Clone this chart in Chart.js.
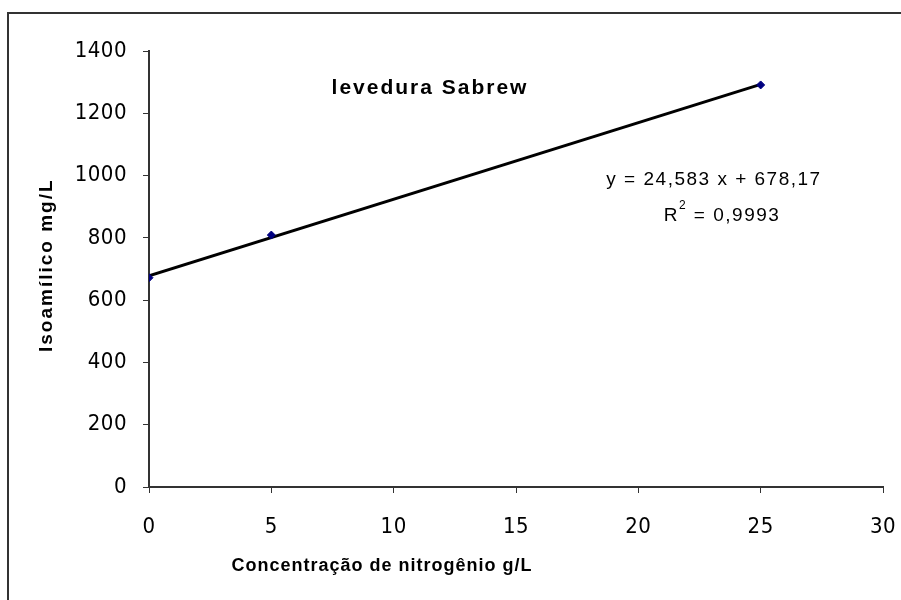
<!DOCTYPE html>
<html lang="pt-br">
  <head>
    <meta charset="UTF-8" />
    <title>levedura Sabrew</title>
    <script src="https://cdn.jsdelivr.net/npm/chart.js"></script>
    <style>
      body { margin: 0; background: #fff; }
      #grafico { display: block; }
    </style>
  </head>
  <body>
    <canvas id="grafico" width="901" height="600"></canvas>
    <script>
      // dados
      const concentracoes = [0, 5, 25];
      const isoamilico = [672, 809, 1291];
      const ticksX = [0, 5, 10, 15, 20, 25, 30];
      const ticksY = [0, 200, 400, 600, 800, 1000, 1200, 1400];
      // linha de tendência (equação mostrada no gráfico)
      const inclinacao = 24.583;
      const intercepto = 678.17;
      const tendenciaX = [0, 25];

      const pontos = concentracoes.map(function (x, i) {
        return { x: x, y: isoamilico[i] };
      });
      const tendencia = tendenciaX.map(function (x) {
        return { x: x, y: inclinacao * x + intercepto };
      });

      const fonte = "'Liberation Sans', Arial, sans-serif";
      const fonteTicks = "'Liberation Sans Narrow', 'DejaVu Sans Condensed', sans-serif";

      const textos = {
        id: "textos",
        beforeDraw: function (chart) {
          const ctx = chart.ctx;
          ctx.save();
          ctx.letterSpacing = "0.5px";
          // moldura externa (apenas topo e esquerda aparecem)
          ctx.strokeStyle = "#333";
          ctx.lineWidth = 2;
          ctx.beginPath();
          ctx.moveTo(8, 620);
          ctx.lineTo(8, 13);
          ctx.lineTo(920, 13);
          ctx.stroke();
        },
        afterDraw: function (chart) {
          const ctx = chart.ctx;
          ctx.restore();
          ctx.save();
          ctx.fillStyle = "#000";
          ctx.textBaseline = "middle";
          ctx.textAlign = "center";

          ctx.letterSpacing = "2px";
          ctx.font = "bold 21px " + fonte;
          ctx.fillText("levedura Sabrew", 430, 88);

          // títulos dos eixos
          ctx.letterSpacing = "1px";
          ctx.font = "bold 18px " + fonte;
          ctx.fillText("Concentração de nitrogênio g/L", 382, 566);

          ctx.save();
          ctx.translate(47, 352);
          ctx.rotate(-Math.PI / 2);
          ctx.textAlign = "left";
          ctx.letterSpacing = "2px";
          ctx.font = "bold 19px " + fonte;
          ctx.fillText("Isoamílico mg/L", 0, 0);
          ctx.restore();

          ctx.letterSpacing = "1.5px";
          ctx.font = "19px " + fonte;
          ctx.fillText("y = 24,583 x + 678,17", 714, 180);

          // R² com expoente
          const parte1 = "R";
          const parte2 = " = 0,9993";
          ctx.font = "19px " + fonte;
          const w1 = ctx.measureText(parte1).width;
          const w3 = ctx.measureText(parte2).width;
          ctx.font = "12px " + fonte;
          const w2 = ctx.measureText("2").width;
          const total = w1 + w2 + w3;
          const x0 = 722 - total / 2;
          ctx.textAlign = "left";
          ctx.font = "19px " + fonte;
          ctx.fillText(parte1, x0, 216);
          ctx.font = "12px " + fonte;
          ctx.fillText("2", x0 + w1, 206);
          ctx.font = "19px " + fonte;
          ctx.fillText(parte2, x0 + w1 + w2, 216);
          ctx.restore();
        },
      };

      const config = {
        type: "scatter",
        data: {
          datasets: [
            {
              label: "Isoamílico",
              data: pontos,
              backgroundColor: "#000080",
              borderColor: "#000080",
              pointStyle: "rectRot",
              pointRadius: 4,
              order: 0,
            },
            {
              label: "Linear",
              type: "line",
              data: tendencia,
              borderColor: "#000",
              borderWidth: 3,
              pointRadius: 0,
              fill: false,
              order: 1,
            },
          ],
        },
        options: {
          responsive: false,
          animation: false,
          layout: { padding: { top: 51, right: 18, left: 0, bottom: 0 } },
          plugins: {
            legend: { display: false },
            tooltip: { enabled: false },
          },
          scales: {
            x: {
              type: "linear",
              min: 0,
              max: 30,
              afterBuildTicks: function (scale) {
                scale.ticks = ticksX.map(function (v) { return { value: v }; });
              },
              afterFit: function (scale) {
                scale.height = 113;
                scale.paddingLeft = 0;
                scale.paddingRight = 0;
              },
              grid: {
                drawOnChartArea: false,
                color: "#333",
                tickLength: 6,
              },
              border: { color: "#333", width: 2 },
              ticks: {
                color: "#000",
                padding: 21,
                font: { family: fonteTicks, size: 22 },
                callback: function (v) { return String(v); },
              },
            },
            y: {
              min: 0,
              max: 1400,
              afterBuildTicks: function (scale) {
                scale.ticks = ticksY.map(function (v) { return { value: v }; });
              },
              afterFit: function (scale) { scale.width = 149; },
              grid: {
                drawOnChartArea: false,
                color: "#333",
                tickLength: 6,
              },
              border: { color: "#333", width: 2 },
              ticks: {
                color: "#000",
                padding: 16,
                font: { family: fonteTicks, size: 22 },
                callback: function (v) { return String(v); },
              },
            },
          },
        },
        plugins: [textos],
      };

      new Chart(document.getElementById("grafico"), config);
    </script>
  </body>
</html>
